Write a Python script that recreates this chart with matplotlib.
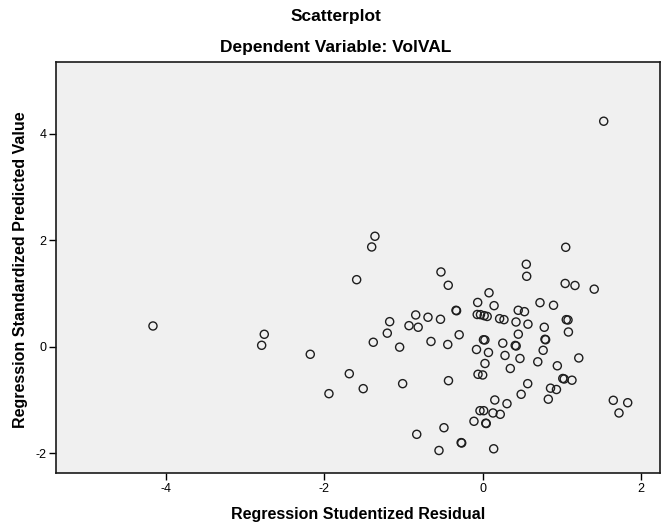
import matplotlib
matplotlib.use("Agg")
import matplotlib.pyplot as plt

# Regression studentized residual (x) vs standardized predicted value (y)
resid = [
    -1.361, -1.402, -1.592, -4.165, -2.759, -2.792, -2.178, -1.382, -1.685, -1.509,
    -1.942, -0.846, -1.175, -0.931, -0.815, -1.205, -1.049, -1.011, -0.833, 1.049,
    0.551, 0.556, -0.527, -0.435, 1.042, 1.166, 1.409, 0.080, -0.063, 0.144,
    0.724, 0.895, -0.337, -0.330, 0.449, 0.528, -0.691, -0.533, -0.069, -0.028,
    0.019, 0.057, 0.214, 0.269, 0.421, 0.572, 1.056, 1.078, 0.778, 1.083,
    0.450, -0.297, -0.653, -0.441, 0.010, 0.028, 0.787, 0.795, 0.411, 0.423,
    0.254, -0.078, 0.073, 0.764, 1.214, 0.029, 0.282, 0.471, 0.696, 0.943,
    0.349, -0.059, 0.000, -0.432, 1.012, 1.030, 1.128, 0.569, 0.857, 0.932,
    0.486, 0.153, 0.829, 0.307, -0.034, 0.013, 0.130, 0.222, -0.110, 0.039,
    0.045, -0.489, -0.272, -0.265, -0.552, 0.139, 1.529, 1.650, 1.832, 1.722,
]
pred = [
    2.075, 1.874, 1.259, 0.389, 0.233, 0.026, -0.143, 0.083, -0.508, -0.789,
    -0.883, 0.596, 0.470, 0.395, 0.365, 0.254, -0.009, -0.695, -1.647, 1.868,
    1.549, 1.323, 1.404, 1.154, 1.188, 1.150, 1.081, 1.013, 0.831, 0.771,
    0.827, 0.778, 0.684, 0.675, 0.684, 0.658, 0.553, 0.515, 0.605, 0.602,
    0.583, 0.568, 0.526, 0.508, 0.464, 0.423, 0.508, 0.502, 0.365, 0.276,
    0.235, 0.224, 0.098, 0.041, 0.130, 0.126, 0.139, 0.130, 0.023, 0.013,
    0.066, -0.053, -0.109, -0.068, -0.212, -0.316, -0.165, -0.222, -0.284, -0.359,
    -0.410, -0.519, -0.532, -0.639, -0.598, -0.607, -0.630, -0.695, -0.780, -0.805,
    -0.895, -1.002, -0.987, -1.071, -1.203, -1.203, -1.246, -1.271, -1.402, -1.438,
    -1.444, -1.523, -1.803, -1.810, -1.951, -1.919, 4.237, -1.008, -1.053, -1.246,
]
x_ticks = [-4, -2, 0, 2]
y_ticks = [-2, 0, 2, 4]

plt.rcParams["font.family"] = ["Liberation Sans", "DejaVu Sans"]
plt.rcParams["axes.unicode_minus"] = False

fig = plt.figure(figsize=(6.62, 5.26), dpi=100)
ax = fig.add_axes([56 / 662, 1 - 473 / 526, 604 / 662, 411 / 526])
ax.set_facecolor("#f0f0f0")

ax.scatter(resid, pred, s=34, facecolors="none", edgecolors="#1e1e1e",
           linewidths=1.0, zorder=3)

ax.set_xlim(-5.39, 2.24)
ax.set_ylim(-2.374, 5.35)
ax.set_xticks(x_ticks)
ax.set_yticks(y_ticks)
ax.tick_params(direction="out", length=5, width=1, labelsize=9, pad=2,
               colors="black")
for sp in ax.spines.values():
    sp.set_linewidth(1.2)
    sp.set_color("#1a1a1a")

fig.text(0.507, 0.968, "Scatterplot", ha="center", va="center",
         fontsize=12.5, fontweight="bold")
fig.text(0.507, 0.909, "Dependent Variable: VolVAL", ha="center", va="center",
         fontsize=12.5, fontweight="bold")
fig.text(358 / 662, 1 - 515 / 526, "Regression Studentized Residual",
         ha="center", va="center", fontsize=11.5, fontweight="bold")
fig.text(21 / 662, 1 - 270 / 526, "Regression Standardized Predicted Value",
         ha="center", va="center", rotation=90, fontsize=11.5,
         fontweight="bold")

fig.savefig("out.png", dpi=100)
